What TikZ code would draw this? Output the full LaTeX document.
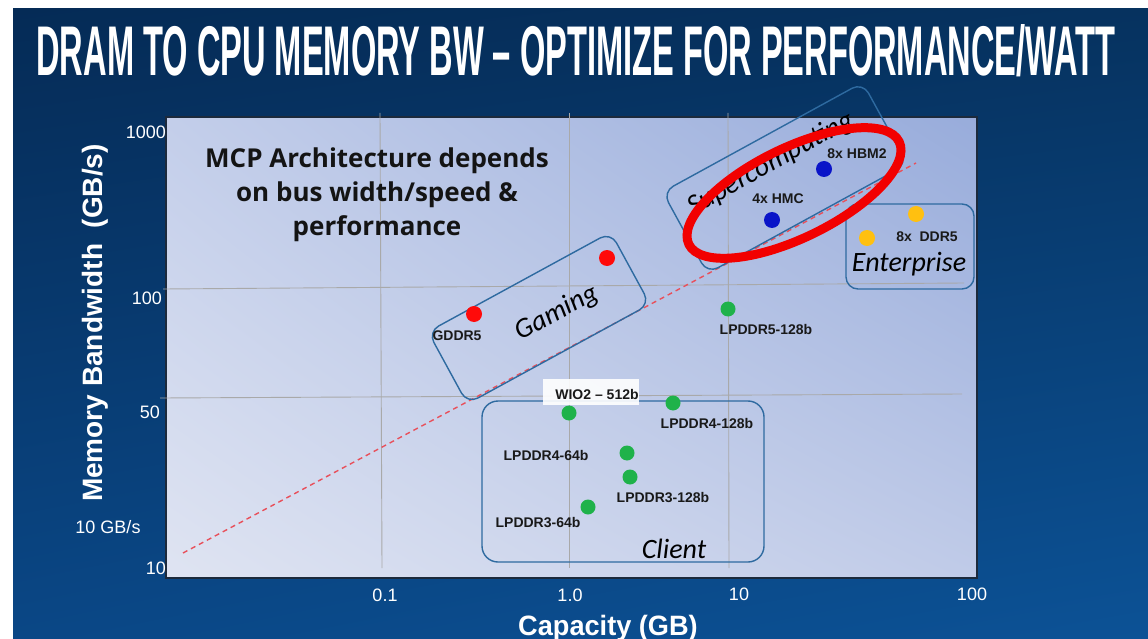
\documentclass[tikz,border=0pt]{standalone}
\usepackage{fontspec}
\usepackage{graphicx}
\setmainfont{Liberation Sans}
\newfontfamily\opensans{Open Sans}
\newfontfamily\carlito{Carlito}
\usetikzlibrary{shapes.geometric,shadings}
\definecolor{bgA}{HTML}{052B56}
\definecolor{bgB}{HTML}{06325F}
\definecolor{bgC}{HTML}{0A4786}
\definecolor{bgD}{HTML}{0C5296}
\definecolor{plA}{HTML}{C3CEEA}
\definecolor{plB}{HTML}{98ACDB}
\definecolor{plC}{HTML}{DFE4F2}
\definecolor{plD}{HTML}{C0CBE8}
\definecolor{gridgray}{HTML}{A9A9A9}
\definecolor{boxblue}{HTML}{2E6AA0}
\definecolor{dashred}{HTML}{E8505B}
\definecolor{dotred}{HTML}{FF0A0A}
\definecolor{dotblue}{HTML}{0A14C8}
\definecolor{dotgreen}{HTML}{1FB24A}
\definecolor{dotyellow}{HTML}{FFC010}
\definecolor{ringred}{HTML}{F20000}
\definecolor{plotborder}{HTML}{1C2A3C}
\tikzset{
  gridline/.style={draw=gridgray, line width=0.9pt},
  groupbox/.style={draw=boxblue, line width=1.4pt, rounded corners=12pt, inner sep=0pt},
  dot/.style={circle, inner sep=0pt, minimum size=16pt},
  lbl/.style={font=\fontsize{14}{16}\selectfont\bfseries, text=black!90, inner sep=0pt},
  cat/.style={font=\carlito\itshape\fontsize{28}{30}\selectfont, text=black, inner sep=0pt},
  tick/.style={font=\fontsize{18}{20}\selectfont, text=white, inner sep=0pt},
  axislabel/.style={font=\bfseries\fontsize{28}{30}\selectfont, text=white, inner sep=0pt},
}
\begin{document}
\begin{tikzpicture}[x=1pt,y=-1pt]
\useasboundingbox (0,0) rectangle (1148,639);
% page background
\fill[white] (0,0) rectangle (1148,639);
\shade[upper left=bgA, upper right=bgB, lower left=bgC, lower right=bgD] (13,9) rectangle (1148,639);
% title
\node[text=white, inner sep=0pt, anchor=south] (title) at (576,77)
  {\resizebox{1079pt}{51pt}{\bfseries DRAM TO CPU MEMORY BW – OPTIMIZE FOR PERFORMANCE/WATT}};
% plot area
\shade[upper left=plA, upper right=plB, lower left=plC, lower right=plD] (166,117) rectangle (977,578);
\draw[plotborder, line width=1.6pt] (166,117) rectangle (977,578);
% grid
\draw[gridline] (380,113) -- (382,568);
\draw[gridline] (569,113) -- (569,568);
\draw[gridline] (728,113) -- (729,568);
\draw[gridline] (163,289) -- (964,283);
\draw[gridline] (160,398) -- (962,394);
% tick labels
\node[tick, anchor=east] (y1000) at (166,132) {1000};
\node[tick, anchor=east] (y100) at (162,298) {100};
\node[tick, anchor=east] (y50) at (160,412) {50};
\node[tick, anchor=east] (y10) at (166,568) {10};
\node[tick] (y10gb) at (108,527) {10 GB/s};
\node[tick] (x01) at (385,595) {0.1};
\node[tick] (x1) at (570,595) {1.0};
\node[tick] (x10) at (739,594) {10};
\node[tick] (x100) at (972,594) {100};
% axis labels
\node[axislabel, rotate=90] (ylab) at (95,323) {Memory Bandwidth\ \ (GB/s)};
\node[axislabel, anchor=west, xscale=0.97] (xlab) at (518,628) {Capacity (GB)};
% annotation
\node[font=\opensans\bfseries\fontsize{26}{34}\selectfont, text=black!92, align=center, inner sep=0pt] (mcp) at (377,195)
  {MCP Architecture depends\\on bus width/speed \&\\performance};
% trend line
\coordinate (d1) at (183,553);
\coordinate (d2) at (916,163);
\draw[dashred, line width=1.4pt, dash pattern=on 5pt off 4pt] (d1) -- (d2);
% group boxes
\node[groupbox, minimum width=208pt, minimum height=82pt, rotate=28.6] (gamingbox) at (539,318) {};
\node[groupbox, minimum width=228pt, minimum height=93pt, rotate=28.7] (superbox) at (785,178) {};
\node[groupbox, minimum width=128pt, minimum height=85pt] (entbox) at (910,246.5) {};
\node[groupbox, rounded corners=16pt, minimum width=282pt, minimum height=161pt] (clientbox) at (623,481.5) {};
% category labels
\node[cat, rotate=28] (gaming) at (557,313) {Gaming};
\node[cat, rotate=29] (super) at (771,164) {Supercomputing};
\node[cat] (ent) at (909,264) {Enterprise};
\node[cat] (client) at (674,549) {Client};
% WIO2 label box
\fill[white, opacity=0.9] (543,379) rectangle (639,405);
% dots
\node[dot, fill=dotred] (gddr5) at (474,314) {};
\node[dot, fill=dotred] (gddr6) at (607,258) {};
\node[dot, fill=dotblue] (hbm2) at (824,169) {};
\node[dot, fill=dotblue] (hmc) at (772,220) {};
\node[dot, fill=dotyellow] (ddr5a) at (916,214) {};
\node[dot, fill=dotyellow] (ddr5b) at (867,238) {};
\node[dot, fill=dotgreen, minimum size=15pt] (lp5) at (728,309) {};
\node[dot, fill=dotgreen, minimum size=15pt] (wio2) at (569,413) {};
\node[dot, fill=dotgreen, minimum size=15pt] (lp4a) at (673,403) {};
\node[dot, fill=dotgreen, minimum size=15pt] (lp4b) at (627,453) {};
\node[dot, fill=dotgreen, minimum size=15pt] (lp3a) at (630,477) {};
\node[dot, fill=dotgreen, minimum size=15pt] (lp3b) at (588,507) {};
% point labels
\node[lbl] (lgddr5) at (457,336) {GDDR5};
\node[lbl] (lhbm2) at (857,154) {8x HBM2};
\node[lbl] (lhmc) at (778,199) {4x HMC};
\node[lbl] (lddr5) at (927,237) {8x\ \ DDR5};
\node[lbl] (llp5) at (766,329) {LPDDR5-128b};
\node[lbl] (lwio2) at (597,394) {WIO2 – 512b};
\node[lbl] (llp4a) at (707,423) {LPDDR4-128b};
\node[lbl] (llp4b) at (546,455) {LPDDR4-64b};
\node[lbl] (llp3a) at (663,498) {LPDDR3-128b};
\node[lbl] (llp3b) at (538,523) {LPDDR3-64b};
% red highlight ring
\node[ellipse, draw=ringred, line width=9pt, minimum width=234pt, minimum height=90pt, inner sep=0pt, rotate=26] (ring) at (794,193) {};
\end{tikzpicture}
\end{document}
